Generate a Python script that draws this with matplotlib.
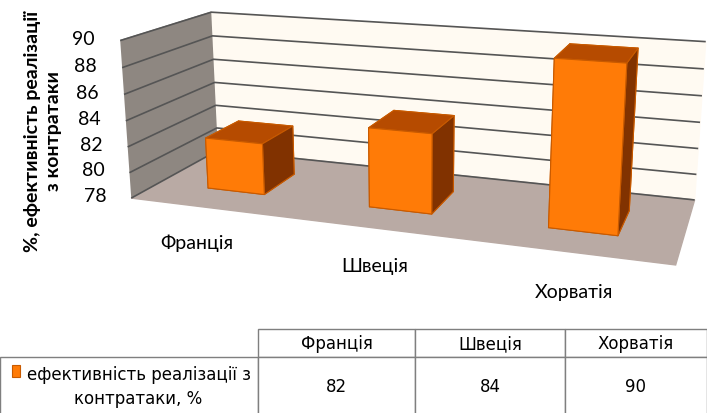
import matplotlib
matplotlib.use("Agg")
import matplotlib.pyplot as plt
from matplotlib.table import Table
import numpy as np

countries = ["Франція", "Швеція", "Хорватія"]
values = [82, 84, 90]
z_ticks = [78, 80, 82, 84, 86, 88, 90]
series_name = "ефективність реалізації з\nконтратаки, %"
y_title = "%, ефективність реалізації\nз контратаки"

plt.rcParams["font.family"] = ["Lato", "DejaVu Sans"]
narrow = ["Liberation Sans Narrow", "DejaVu Sans"]

front_c, top_c, side_c, edge_c = "#ff7b07", "#b64b00", "#813200", "#c85a00"

fig = plt.figure(figsize=(7.07, 4.14), dpi=100)
# big 3d axes (partly outside the figure) so the box fills the upper part
ax = fig.add_axes([-0.213, -0.015, 1.57, 1.40], projection="3d")
ax.set_proj_type("persp", focal_length=0.35)
ax.view_init(elev=15, azim=-71)
ax.set_box_aspect((3.6, 1.2, 1.08))

zmin, zmax = z_ticks[0], z_ticks[-1]
ax.set_xlim(-0.5, len(countries) - 0.5)
ax.set_ylim(0, 1)
ax.set_zlim(zmin, zmax)

xs = np.arange(len(countries))
dx, dy = 0.36, 0.4
for x, v in zip(xs, values):
    # bottom, top, front, back, left, right
    cols = [side_c, top_c, front_c, side_c, side_c, side_c]
    ax.bar3d(x - dx / 2, 0.5 - dy / 2, zmin, dx, dy, v - zmin,
             color=cols, shade=False, edgecolor=edge_c, linewidth=0.8)

ax.set_xticks([])
ax.set_yticks([])
ax.set_zticks(z_ticks)
ax.set_zticklabels([])
for a in (ax.xaxis, ax.yaxis, ax.zaxis):
    a.line.set_color((0, 0, 0, 0))
    a._axinfo["tick"]["inward_factor"] = 0
    a._axinfo["tick"]["outward_factor"] = 0
    a._axinfo["grid"]["color"] = "#555555"
    a._axinfo["grid"]["linewidth"] = 1.2
    a.pane.set_edgecolor("#7f7f7f")
ax.xaxis.set_pane_color("#8e8781")
ax.yaxis.set_pane_color("#fffaf2")
ax.zaxis.set_pane_color("#b9aaa4")

for z in z_ticks:
    ax.text(-0.66, 0, z, str(z), ha="right", va="center", fontsize=14, color="#000000")
for x, name in zip(xs, countries):
    ax.text(x + 0.06, -0.25, zmin - 0.7, name, ha="center", va="top", fontsize=14)

fig.text(43 / 707, 1 - 131 / 414, y_title, rotation=90, ha="center", va="center",
         fontsize=14, fontweight="bold", multialignment="center", linespacing=1.3)

# data table
tax = fig.add_axes([0, -2 / 414, 1, 86 / 414])
tax.axis("off")
tbl = Table(tax, bbox=[0, 0, 1, 1])
col_w = [0.365, 0.222, 0.212, 0.201]
row_h = [28 / 86, 58 / 86]
for c, name in enumerate(countries, start=1):
    tbl.add_cell(0, c, col_w[c], row_h[0], text=name, loc="center")
tbl.add_cell(1, 0, col_w[0], row_h[1], text="", loc="center")
for c, v in enumerate(values, start=1):
    tbl.add_cell(1, c, col_w[c], row_h[1], text=str(v), loc="center")
tbl.auto_set_font_size(False)
for (r, c), cell in tbl.get_celld().items():
    cell.set_edgecolor("#7f7f7f")
    cell.set_linewidth(1.0)
    cell.get_text().set_fontsize(12)
    cell.get_text().set_fontfamily(narrow)
tax.add_table(tbl)
tax.text(0.196, row_h[1] / 2, series_name, transform=tax.transAxes,
         ha="center", va="center", fontsize=12, multialignment="center",
         family=narrow, linespacing=1.4)
tax.add_patch(plt.Rectangle((0.017, 0.44), 0.011, 0.14, transform=tax.transAxes,
                            facecolor=front_c, edgecolor=edge_c, lw=0.8))

fig.savefig("out.png", dpi=100)
